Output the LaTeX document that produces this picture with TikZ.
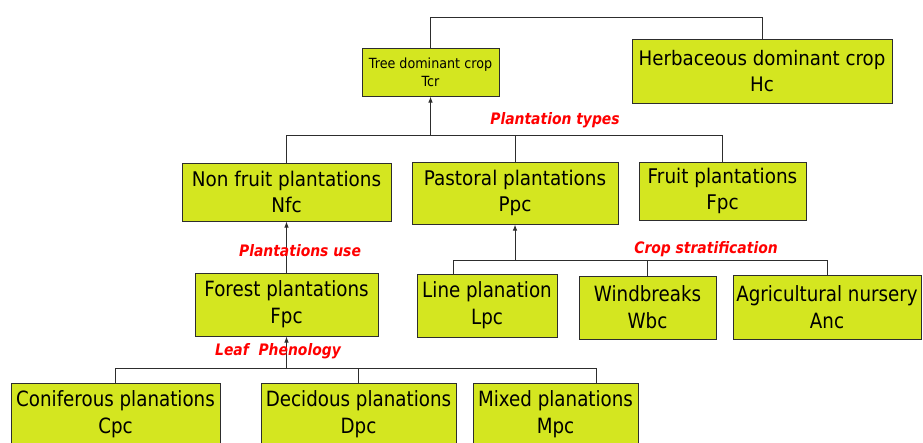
\documentclass[tikz,border=0pt]{standalone}
\usepackage{fontspec}
\usetikzlibrary{arrows.meta}
\newfontfamily\boxfont{DejaVu Sans}[FakeStretch=0.91]
\newfontfamily\condfont{DejaVu Sans}[FakeStretch=0.87]
\newfontfamily\labfont{DejaVu Sans}[FakeStretch=0.88]
\definecolor{boxfill}{RGB}{212,230,32}
\definecolor{edge}{RGB}{45,45,45}
\definecolor{labred}{RGB}{255,0,0}
\tikzset{
  box/.style={draw=edge, line width=1pt, fill=boxfill, align=center, inner sep=0pt},
  topbox/.style={box, font=\boxfont\fontsize{20.2}{26}\selectfont},
  lowbox/.style={box, font=\condfont\fontsize{21}{27}\selectfont},
  conn/.style={draw=edge, line width=1pt},
  arr/.style={conn, -{Latex[length=6pt,width=4.5pt]}},
  lab/.style={text=labred, font=\labfont\bfseries\itshape\fontsize{15.8}{18}\selectfont}
}
\begin{document}
\begin{tikzpicture}[x=1pt,y=-1pt]
\useasboundingbox (0,0) rectangle (923,442);
\begin{scope}
\clip (0,0) rectangle (923,442);

% first level
\node[box, font=\boxfont\fontsize{14}{18}\selectfont, minimum width=137pt, minimum height=48pt]
  (tcr) at (430.5,72) {Tree dominant crop\\Tcr};
\node[topbox, font=\boxfont\fontsize{20}{26}\selectfont, minimum width=260pt, minimum height=64pt]
  (hc) at (762,71) {Herbaceous dominant crop\\Hc};

% plantation types
\node[topbox, minimum width=209pt, minimum height=58pt] (nfc) at (286.5,192) {Non fruit plantations\\Nfc};
\node[topbox, minimum width=206pt, minimum height=62pt] (ppc) at (515,193) {Pastoral plantations\\Ppc};
\node[topbox, minimum width=167pt, minimum height=58pt] (frc) at (722.5,191) {Fruit plantations\\Fpc};

% plantation use and crop stratification
\node[lowbox, minimum width=183pt, minimum height=63pt] (fop) at (286.5,304.5) {Forest plantations\\Fpc};
\node[lowbox, minimum width=140pt, minimum height=63pt] (lpc) at (487,305.5) {Line planation\\Lpc};
\node[lowbox, minimum width=137pt, minimum height=63pt] (wbc) at (647.5,307.5) {Windbreaks\\Wbc};
\node[lowbox, minimum width=188pt, minimum height=64pt] (anc) at (827,307) {Agricultural nursery\\Anc};

% leaf phenology
\node[lowbox, minimum width=209pt, minimum height=63pt] (cpc) at (115.5,414.5) {Coniferous planations\\Cpc};
\node[lowbox, minimum width=195pt, minimum height=63pt] (dpc) at (358.5,414.5) {Decidous planations\\Dpc};
\node[lowbox, minimum width=165pt, minimum height=63pt] (mpc) at (555.5,414.5) {Mixed planations\\Mpc};

% bus points
\coordinate (b1) at (430.5,135);
\coordinate (b2) at (515,260);
\coordinate (b3) at (286.5,368);
\coordinate (lpcTop) at ([xshift=-34pt]lpc.north);
\coordinate (mpcTop) at ([xshift=40.5pt]mpc.north);

% connectors
\draw[conn] (tcr.north) -- ++(0,-30) -| (hc.north);

\draw[arr] (b1) -- (tcr.south);
\draw[conn] (nfc.north) -- (nfc.north |- b1) -- (frc.north |- b1) -- (frc.north);
\draw[conn] (ppc.north) -- (ppc.north |- b1);

\draw[arr] (fop.north) -- (nfc.south);

\draw[arr] (b2) -- (ppc.south);
\draw[conn] (lpcTop) -- (lpcTop |- b2) -- (anc.north |- b2) -- (anc.north);
\draw[conn] (wbc.north) -- (wbc.north |- b2);

\draw[arr] (b3) -- (fop.south);
\draw[conn] (cpc.north) -- (cpc.north |- b3) -- (mpcTop |- b3) -- (mpcTop);
\draw[conn] (dpc.north) -- (dpc.north |- b3);

% labels
\node[lab] (ltypes) at (555,120) {Plantation types};
\node[lab] (luse) at (300,251) {Plantations use};
\node[lab] (lstrat) at (706,249) {Crop stratification};
\node[lab] (lleaf) at (278,351) {Leaf\ \ Phenology};
\end{scope}
\end{tikzpicture}
\end{document}
